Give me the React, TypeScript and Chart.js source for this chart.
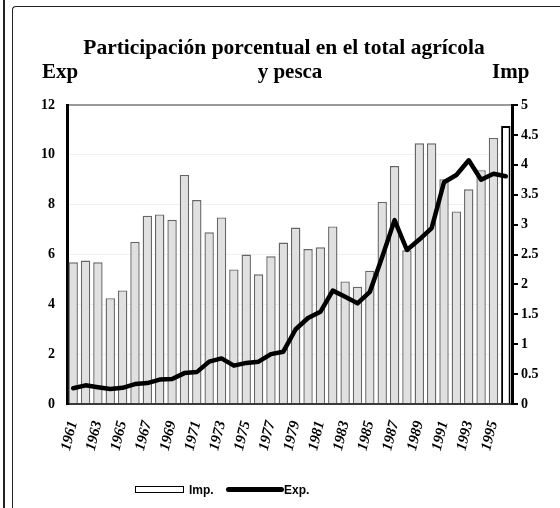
import React, { useEffect, useRef } from 'react';
import { Chart, registerables } from 'chart.js';

Chart.register(...registerables);

const years = [
  '1961', '1962', '1963', '1964', '1965', '1966', '1967', '1968', '1969', '1970',
  '1971', '1972', '1973', '1974', '1975', '1976', '1977', '1978', '1979', '1980',
  '1981', '1982', '1983', '1984', '1985', '1986', '1987', '1988', '1989', '1990',
  '1991', '1992', '1993', '1994', '1995', '1996',
];

// Imp. (right axis, 0-5)
const impValues = [
  2.37, 2.4, 2.37, 1.77, 1.9, 2.71, 3.15, 3.17, 3.08, 3.83,
  3.41, 2.87, 3.12, 2.25, 2.5, 2.17, 2.47, 2.7, 2.95, 2.59,
  2.62, 2.97, 2.05, 1.96, 2.23, 3.38, 3.98, 2.57, 4.36, 4.36,
  3.76, 3.22, 3.59, 3.91, 4.45, 4.65,
];

// Exp. (left axis, 0-12)
const expValues = [
  0.63, 0.75, 0.67, 0.6, 0.65, 0.8, 0.84, 0.98, 1.0, 1.24,
  1.28, 1.7, 1.83, 1.54, 1.65, 1.7, 2.0, 2.1, 3.0, 3.45,
  3.7, 4.55, 4.3, 4.04, 4.5, 5.9, 7.38, 6.18, 6.6, 7.06,
  8.9, 9.19, 9.78, 9.0, 9.24, 9.14,
];

const leftMax = 12;
const leftStep = 2;
const rightMax = 5;
const rightStep = 0.5;

const serif = "'Liberation Serif', 'Times New Roman', serif";
const sans = "'Liberation Sans Narrow', 'Liberation Sans', Arial, sans-serif";

export default function App() {
  const canvasRef = useRef<HTMLCanvasElement | null>(null);

  useEffect(() => {
    const canvas = canvasRef.current;
    if (!canvas) return;
    const last = impValues.length - 1;
    const chart = new Chart(canvas, {
      type: 'bar',
      data: {
        labels: years,
        datasets: [
          {
            type: 'line',
            label: 'Exp.',
            data: expValues,
            yAxisID: 'yL',
            borderColor: '#000',
            backgroundColor: '#000',
            borderWidth: 4.5,
            pointRadius: 0,
            tension: 0,
            borderJoinStyle: 'round',
            borderCapStyle: 'round',
            order: 0,
          } as any,
          {
            type: 'bar',
            label: 'Imp.',
            data: impValues,
            yAxisID: 'yR',
            backgroundColor: impValues.map((_, i) => (i === last ? '#ffffff' : '#e0e0e0')),
            borderColor: impValues.map((_, i) => (i === last ? '#000000' : '#666666')),
            borderWidth: impValues.map((_, i) => (i === last ? 2 : 1.4)),
            barPercentage: 0.76,
            categoryPercentage: 1,
            order: 1,
          } as any,
        ],
      },
      options: {
        responsive: false,
        animation: false,
        layout: { padding: { top: 105, bottom: 44, left: 0, right: 0 } },
        plugins: {
          legend: { display: false },
          tooltip: { enabled: false },
          title: { display: false },
        },
        scales: {
          x: {
            grid: { display: false, drawTicks: false },
            border: { display: true, color: '#3a3a3a', width: 2 },
            ticks: {
              autoSkip: false,
              maxRotation: 76,
              minRotation: 76,
              padding: 15,
              color: '#000',
              font: { family: serif, size: 15, style: 'italic', weight: 'bold' },
              callback: (_v: any, i: number) => (i % 2 === 0 ? years[i] : ''),
            },
            afterFit: (s: any) => {
              s.height = 60;
            },
          },
          yL: {
            type: 'linear',
            position: 'left',
            min: 0,
            max: leftMax,
            ticks: {
              stepSize: leftStep,
              padding: 12,
              color: '#000',
              font: { family: serif, size: 14, weight: 'bold' },
            },
            grid: {
              drawTicks: false,
              color: (ctx: any) => (ctx.tick && ctx.tick.value === leftMax ? '#9a9a9a' : '#f1f1f1'),
              lineWidth: (ctx: any) => (ctx.tick && ctx.tick.value === leftMax ? 2 : 1),
            },
            border: { color: '#000', width: 3 },
            afterFit: (s: any) => {
              s.width = 67;
            },
          },
          yR: {
            type: 'linear',
            position: 'right',
            min: 0,
            max: rightMax,
            ticks: {
              stepSize: rightStep,
              padding: 3,
              color: '#000',
              font: { family: serif, size: 14, weight: 'bold' },
              callback: (v: any) => String(Number(v)),
            },
            grid: {
              drawOnChartArea: false,
              drawTicks: true,
              tickLength: 6,
              color: '#000',
              lineWidth: 2,
            },
            border: { color: '#000', width: 3 },
            afterFit: (s: any) => {
              s.width = 48;
            },
          },
        },
      } as any,
    });
    return () => chart.destroy();
  }, []);

  const abs = (o: React.CSSProperties): React.CSSProperties => ({ position: 'absolute', ...o });

  return (
    <div style={abs({ left: 0, top: 0, width: 560, height: 508, background: '#fff', overflow: 'hidden' })}>
      <div style={abs({ left: 3, top: 0, width: 2, height: 508, background: '#222' })} />
      <div
        style={abs({
          left: 12,
          top: 6,
          width: 560,
          height: 520,
          borderLeft: '1.5px solid #222',
          borderTop: '1.5px solid #222',
          borderTopLeftRadius: 4,
        })}
      />
      <canvas ref={canvasRef} width={560} height={508} style={abs({ left: 0, top: 0, width: 560, height: 508 })} />
      <div
        style={abs({
          left: 54,
          top: 37,
          width: 460,
          textAlign: 'center',
          fontFamily: serif,
          fontWeight: 'bold',
          fontSize: 21.5,
          lineHeight: '21px',
          whiteSpace: 'nowrap',
          color: '#000',
        })}
      >
        Participación porcentual en el total agrícola
      </div>
      <div
        style={abs({
          left: 230,
          top: 61,
          width: 120,
          textAlign: 'center',
          fontFamily: serif,
          fontWeight: 'bold',
          fontSize: 21,
          lineHeight: '21px',
          color: '#000',
        })}
      >
        y pesca
      </div>
      <div style={abs({ left: 42, top: 61, fontFamily: serif, fontWeight: 'bold', fontSize: 21, lineHeight: '21px', color: '#000' })}>
        Exp
      </div>
      <div style={abs({ left: 492, top: 61, fontFamily: serif, fontWeight: 'bold', fontSize: 21, lineHeight: '21px', color: '#000' })}>
        Imp
      </div>
      <div style={abs({ left: 135, top: 486, width: 47, height: 5, border: '1.5px solid #000', background: '#fff' })} />
      <div style={abs({ left: 189, top: 484, fontFamily: sans, fontWeight: 'bold', fontSize: 12, lineHeight: '12px', color: '#000' })}>
        Imp.
      </div>
      <div style={abs({ left: 226, top: 487, width: 58, height: 5, borderRadius: 3, background: '#000' })} />
      <div style={abs({ left: 284, top: 484, fontFamily: sans, fontWeight: 'bold', fontSize: 12, lineHeight: '12px', color: '#000' })}>
        Exp.
      </div>
    </div>
  );
}
